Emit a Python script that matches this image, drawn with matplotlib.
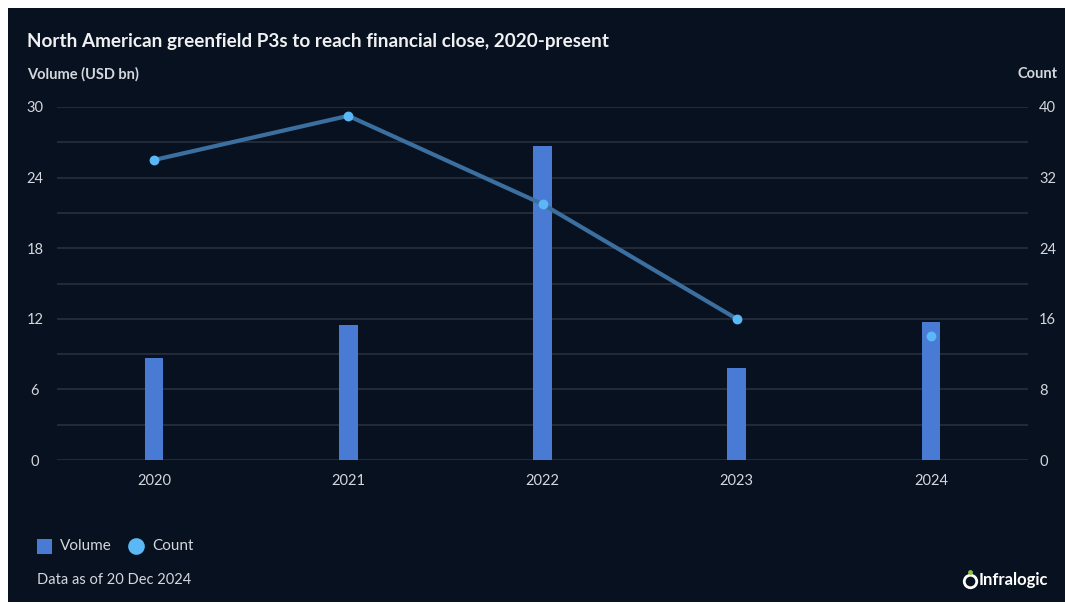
import numpy as np
import matplotlib.pyplot as plt
from matplotlib.patches import Rectangle
from matplotlib.lines import Line2D

# chart data
years = ['2020', '2021', '2022', '2023', '2024']
volume = [8.7, 11.5, 26.7, 7.8, 11.7]      # USD bn
count = [34, 39, 29, 16, 14]
# the count line is drawn only through the full years
line_years = 4

bg = '#08111f'
grid_c = '#232a38'
text_c = '#d4d7dd'
bar_c = '#4a7bd4'
line_c = '#3b6fa0'
dot_c = '#5bb8f6'

plt.rcParams['font.family'] = ['Lato', 'DejaVu Sans']

W, H = 1065, 604
fig = plt.figure(figsize=(W / 100, H / 100), dpi=100)
fig.patch.set_facecolor('white')
# dark card with a thin white margin top/left like the screenshot
fig.patches.append(Rectangle((8 / W, 2 / H), 1 - 8 / W, 1 - 10 / H,
                             transform=fig.transFigure, facecolor=bg,
                             edgecolor='none', zorder=-10))

ax = fig.add_axes([57 / W, 144 / H, 971 / W, 353 / H])
ax.set_facecolor(bg)
ax2 = ax.twinx()

x = np.arange(len(years))
ax.bar(x, volume, width=0.095, color=bar_c, zorder=3)

ax.set_xlim(-0.5, len(years) - 0.5)
ax.set_ylim(0, 30)
ax.set_yticks(np.arange(0, 31, 6))
ax.set_yticks(np.arange(3, 30, 6), minor=True)
ax.grid(axis='y', which='both', color=grid_c, linewidth=1.4, zorder=0)
ax.set_xticks(x)
ax.set_xticklabels(years)

ax2.set_ylim(0, 40)
ax2.set_yticks(np.arange(0, 41, 8))
ax2.plot(x[:line_years], count[:line_years], color=line_c, linewidth=3,
         solid_capstyle='round', zorder=4)
ax2.scatter(x, count, s=50, color=dot_c, zorder=5, linewidths=0)

for a in (ax, ax2):
    for s in a.spines.values():
        s.set_visible(False)
    a.tick_params(which='both', length=0, colors=text_c, labelsize=10.5)

ax.tick_params(axis='x', pad=10)
for t in ax.get_yticklabels():
    t.set_horizontalalignment('center')
ax.tick_params(axis='y', pad=16)
ax2.tick_params(axis='y', pad=8)


def fy(py):
    return 1 - py / H


fig.text(27 / W, fy(41), 'North American greenfield P3s to reach financial close, 2020-present',
         color='#f0f1f3', fontsize=13.6, fontweight='bold', va='center')
fig.text(27 / W, fy(74), 'Volume (USD bn)', color=text_c, fontsize=10.5,
         fontweight='bold', va='center')
fig.text(1058 / W, fy(74), 'Count', color=text_c, fontsize=10.5,
         fontweight='bold', va='center', ha='right')

# legend
fig.patches.append(Rectangle((37 / W, fy(554)), 15 / W, 15 / H,
                             transform=fig.transFigure, facecolor=bar_c, edgecolor='none'))
fig.text(60 / W, fy(546), 'Volume', color=text_c, fontsize=11, va='center')
fig.add_artist(Line2D([136 / W], [fy(546)], transform=fig.transFigure, marker='o',
                      markersize=12, color=dot_c, markeredgewidth=0, linestyle='none'))
fig.text(152 / W, fy(546), 'Count', color=text_c, fontsize=11, va='center')

fig.text(37 / W, fy(580), 'Data as of 20 Dec 2024', color=text_c, fontsize=10.5, va='center')

# logo
fig.add_artist(Line2D([970 / W], [fy(581)], transform=fig.transFigure, marker='o',
                      markersize=9, markerfacecolor='none', markeredgecolor='white',
                      markeredgewidth=2, linestyle='none'))
fig.add_artist(Line2D([970 / W], [fy(572)], transform=fig.transFigure, marker='o',
                      markersize=3.5, color='#8cc63f', markeredgewidth=0, linestyle='none'))
fig.text(979 / W, fy(580), 'Infralogic', color='white', fontsize=12,
         fontweight='bold', va='center')

fig.savefig('out.png', dpi=100, facecolor=fig.get_facecolor())
